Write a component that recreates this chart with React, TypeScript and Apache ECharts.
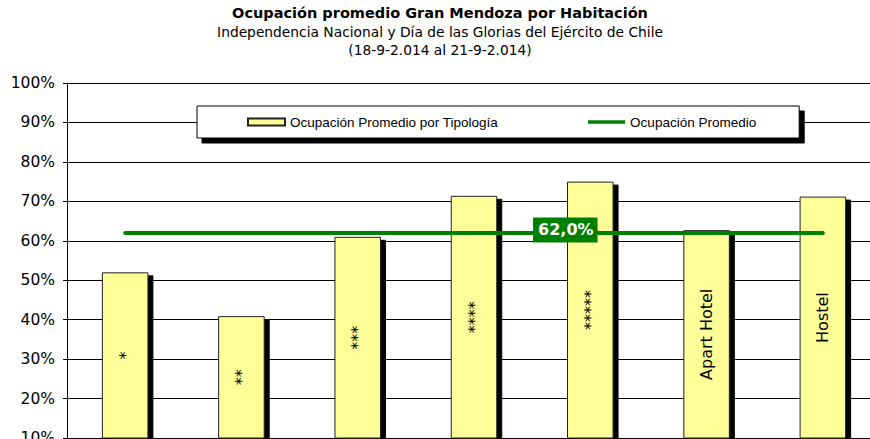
import React, { useEffect, useRef } from "react";
import * as echarts from "echarts";

const categories = ["*", "**", "***", "****", "*****", "Apart Hotel", "Hostel"];
const barValues = [52.0, 40.9, 61.0, 71.4, 75.0, 62.7, 71.2];
const averageValues = [62, 62, 62, 62, 62, 62, 62];
const averageLabelIndex = 4;
const titleText = "Ocupación promedio Gran Mendoza por Habitación";
const subtitleLines = [
  "Independencia Nacional y Día de las Glorias del Ejército de Chile",
  "(18-9-2.014 al 21-9-2.014)",
];
const barSeriesName = "Ocupación Promedio por Tipología";
const lineSeriesName = "Ocupación Promedio";

export default function App() {
  const ref = useRef<HTMLDivElement>(null);

  useEffect(() => {
    if (!ref.current) return;
    const chart = echarts.init(ref.current, null, { renderer: "svg" });
    const lineData = averageValues.map((v, i) =>
      i === averageLabelIndex
        ? {
            value: v,
            label: {
              show: true,
              position: "inside",
              offset: [-25, -3],
              formatter: (p: any) => Number(p.value).toFixed(1).replace(".", ",") + "%",
              color: "#fff",
              fontWeight: "bold",
              fontSize: 16,
              fontFamily: "DejaVu Sans",
              backgroundColor: "#008000",
              padding: [5, 4, 4, 5],
            },
          }
        : v
    );
    chart.setOption({
      animation: false,
      backgroundColor: "#fff",
      title: {
        text: titleText,
        subtext: subtitleLines.join("\n"),
        left: 440,
        top: 5,
        textAlign: "center",
        padding: 0,
        itemGap: 2,
        textStyle: {
          fontFamily: "DejaVu Sans",
          fontWeight: "bold",
          fontSize: 14.5,
          color: "#000",
          lineHeight: 16,
        },
        subtextStyle: {
          fontFamily: "DejaVu Sans",
          fontSize: 13.8,
          color: "#000",
          lineHeight: 18,
        },
      },
      legend: {
        left: 197,
        top: 106,
        orient: "horizontal",
        padding: [9, 43, 9, 50],
        itemGap: 90,
        itemWidth: 37,
        itemHeight: 7,
        backgroundColor: "#fff",
        borderColor: "#000",
        borderWidth: 1,
        borderRadius: 0,
        shadowColor: "#000",
        shadowBlur: 0,
        shadowOffsetX: 5,
        shadowOffsetY: 5,
        itemStyle: { shadowColor: "transparent", shadowOffsetX: 0, shadowOffsetY: 0, shadowBlur: 0 },
        textStyle: { fontFamily: "Liberation Sans", fontSize: 13.5, color: "#000" },
        data: [
          { name: barSeriesName, icon: "rect" },
          {
            name: lineSeriesName,
            icon: "path://M0,0 H40 V4 H0 Z",
            itemStyle: { color: "#008000", borderWidth: 0 },
          },
        ],
      },
      grid: {
        left: 67,
        top: 83,
        width: 814,
        height: 355,
        containLabel: false,
        outerBoundsMode: "none",
      },
      xAxis: {
        type: "category",
        data: categories,
        axisLine: { show: true, lineStyle: { color: "#000", width: 1 } },
        axisTick: { show: false },
        axisLabel: { show: false },
        splitLine: { show: false },
      },
      yAxis: {
        type: "value",
        min: 10,
        max: 100,
        interval: 10,
        axisLine: { show: true, lineStyle: { color: "#000", width: 1 } },
        axisTick: { show: true, length: 4, lineStyle: { color: "#000" } },
        axisLabel: {
          formatter: "{value}%",
          margin: 12,
          fontFamily: "DejaVu Sans",
          fontSize: 15.5,
          color: "#000",
        },
        splitLine: { show: true, lineStyle: { color: "#000", width: 1 } },
      },
      series: [
        {
          name: barSeriesName,
          type: "bar",
          data: barValues,
          barWidth: "40%",
          itemStyle: {
            color: "#FFFF99",
            borderColor: "#222",
            borderWidth: 1,
            shadowColor: "#000",
            shadowBlur: 0,
            shadowOffsetX: 5,
            shadowOffsetY: 3,
          },
          label: {
            show: true,
            position: "inside",
            rotate: 90,
            formatter: "{b}",
            fontFamily: "DejaVu Sans",
            fontSize: 16,
            color: "#000",
          },
        },
        {
          name: lineSeriesName,
          type: "line",
          data: lineData,
          symbol: "circle",
          symbolSize: 0,
          showSymbol: true,
          lineStyle: { color: "#008000", width: 4, cap: "round" },
          itemStyle: { color: "#008000" },
          z: 5,
        },
      ],
    });
    return () => chart.dispose();
  }, []);

  return (
    <div
      ref={ref}
      style={{ position: "absolute", left: 0, top: 0, width: 870, height: 439 }}
    />
  );
}
